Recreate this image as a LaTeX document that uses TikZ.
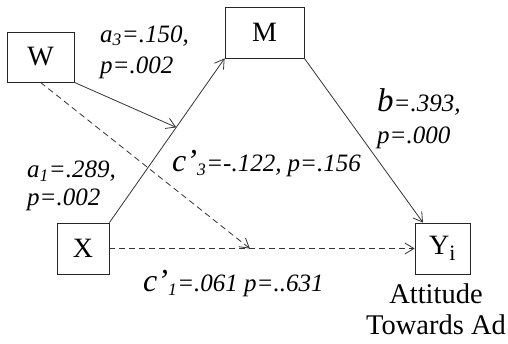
\documentclass[tikz,border=0pt]{standalone}
\usepackage{fontspec}
\setmainfont{Liberation Serif}
\usetikzlibrary{arrows.meta,calc}
\begin{document}
\begin{tikzpicture}[x=1pt,y=-1pt,
  box/.style={draw=black!85,line width=0.8pt,inner sep=0pt,font=\fontsize{28}{30}\selectfont},
  conn/.style={draw=black!80,line width=0.8pt,-{Straight Barb[length=9pt,width=11pt,line width=0.8pt]}},
  dconn/.style={conn,dash pattern=on 6pt off 4pt},
  lab/.style={inner sep=0pt,anchor=west,align=left,font=\fontsize{25}{31}\selectfont\itshape},
  plain/.style={inner sep=0pt,font=\fontsize{28.5}{31}\selectfont}]
\useasboundingbox (0,0) rectangle (508,343);
\node[box,minimum width=67pt,minimum height=50pt] (W) at (40.5,57) {W};
\node[box,minimum width=79pt,minimum height=51pt] (M) at (264.5,32.5) {M};
\node[box,minimum width=52pt,minimum height=51pt] (X) at (83,248.5) {X};
\node[box,minimum width=55pt,minimum height=51pt] (Y) at (442.5,248.5) {Y\textsubscript{\fontsize{22}{22}\selectfont i}};
\coordinate (pXM) at ($(X.north east)!0.58!(M.south west)$);
\coordinate (pXY) at ($(X.east)!0.46!(Y.west)$);
\coordinate (yin) at ($(Y.north west)!0.15!(Y.north east)$);
\draw[conn] (X.north east) -- (M.south west);
\draw[conn] (W.south east) -- (pXM);
\draw[dconn] (W.south) -- (pXY);
\draw[dconn] (X.east) -- (Y.west);
\draw[conn] (M.south east) -- (yin);
\node[lab] (la3) at (100,52) {a\textsubscript{3}=.150,\\p=.002};
\node[lab,font=\fontsize{25}{28}\selectfont\itshape] (la1) at (27,186) {a\textsubscript{1}=.289,\\p=.002};
\node[lab,font=\fontsize{25}{32}\selectfont\itshape] (lb) at (377,119) {{\fontsize{33}{33}\selectfont b}=.393,\\p=.000};
\node[lab] (lc3) at (172,164) {{\fontsize{32}{32}\selectfont c’}\textsubscript{3}=-.122, p=.156};
\node[lab] (lc1) at (143,284) {{\fontsize{32}{32}\selectfont c’}\textsubscript{1}=.061 p=..631};
\node[plain,align=center] (att) at (436,309) {Attitude\\Towards Ad};
\end{tikzpicture}
\end{document}
